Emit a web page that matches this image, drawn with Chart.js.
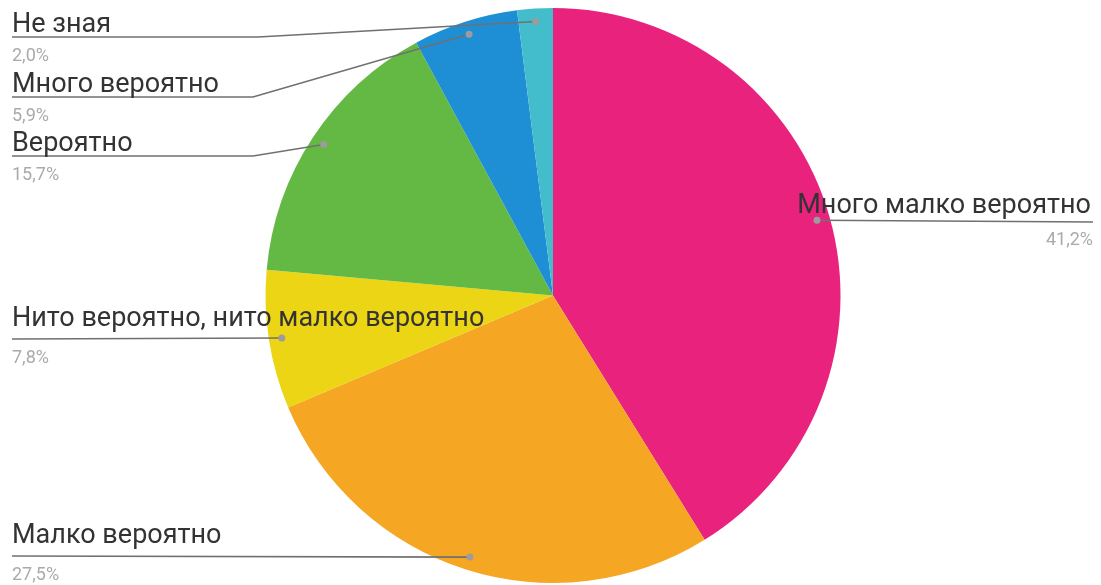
<!DOCTYPE html>
<html>
<head>
<meta charset="utf-8">
<script src="https://cdn.jsdelivr.net/npm/chart.js@4"></script>
<style>
    html, body { margin: 0; padding: 0; background: #ffffff; }
    #wrap { width: 1101px; height: 585px; position: relative; }
</style>
</head>
<body>
<div id="wrap"><canvas id="pieChart" width="1101" height="585"></canvas></div>
<script>
// Answers, in drawing order (clockwise from 12 o'clock)
const answers = [
    'Много малко вероятно',
    'Малко вероятно',
    'Нито вероятно, нито малко вероятно',
    'Вероятно',
    'Много вероятно',
    'Не зная'
];
const shares = [41.2, 27.5, 7.8, 15.7, 5.9, 2.0];
const sliceColors = ['#E8227D', '#F5A623', '#EBD514', '#64B945', '#1E8FD5', '#43BCCB'];

// Where each callout sits: side, underline y, bend x of the leader line
const callouts = [
    { side: 'right', lineY: 222, bendX: null },
    { side: 'left',  lineY: 556, bendX: null },
    { side: 'left',  lineY: 339, bendX: null },
    { side: 'left',  lineY: 156, bendX: 253 },
    { side: 'left',  lineY: 97,  bendX: 253 },
    { side: 'left',  lineY: 37,  bendX: 258 }
];

const NAME_FONT = '28px Roboto';
const PCT_FONT = '18px Roboto';
const NAME_STRETCH = 0.965;

function fmtPct(v) {
    return v.toFixed(1).replace('.', ',') + '%';
}

function drawName(ctx, text, x, y, align) {
    ctx.save();
    ctx.font = NAME_FONT;
    ctx.fillStyle = '#333333';
    ctx.textBaseline = 'alphabetic';
    ctx.textAlign = 'left';
    const w = ctx.measureText(text).width * NAME_STRETCH;
    const left = align === 'right' ? x - w : x;
    ctx.translate(left, y);
    ctx.scale(NAME_STRETCH, 1);
    ctx.fillText(text, 0, 0);
    ctx.restore();
}

const calloutPlugin = {
    id: 'callouts',
    afterDatasetsDraw(chart) {
        const ctx = chart.ctx;
        const meta = chart.getDatasetMeta(0);
        meta.data.forEach((arc, i) => {
            const c = callouts[i];
            const mid = (arc.startAngle + arc.endAngle) / 2;
            const r = arc.outerRadius - 13;
            const dx = arc.x + Math.cos(mid) * r;
            const dy = arc.y + Math.sin(mid) * r;

            // leader line: underline under the name, then a kink to the dot
            ctx.save();
            ctx.strokeStyle = '#707070';
            ctx.lineWidth = 1.6;
            ctx.beginPath();
            if (c.side === 'left') {
                ctx.moveTo(12, c.lineY);
                if (c.bendX !== null) ctx.lineTo(c.bendX, c.lineY);
                ctx.lineTo(dx, dy);
            } else {
                ctx.moveTo(dx, dy);
                ctx.lineTo(1093, c.lineY);
            }
            ctx.stroke();

            ctx.fillStyle = '#9c9c9c';
            ctx.beginPath();
            ctx.arc(dx, dy, 3.5, 0, Math.PI * 2);
            ctx.fill();
            ctx.restore();

            const name = answers[i];
            const pct = fmtPct(shares[i]);
            ctx.save();
            ctx.font = PCT_FONT;
            ctx.fillStyle = '#aaaaaa';
            if (c.side === 'left') {
                drawName(ctx, name, 12, c.lineY - 5 - (c.lineY > 300 ? 8 : 0), 'left');
                ctx.textAlign = 'left';
                ctx.fillText(pct, 12, c.lineY + 24);
            } else {
                drawName(ctx, name, 1091, c.lineY - 9, 'right');
                ctx.textAlign = 'right';
                ctx.fillText(pct, 1093, c.lineY + 23);
            }
            ctx.restore();
        });
    }
};

new Chart(document.getElementById('pieChart'), {
    type: 'pie',
    data: {
        labels: answers,
        datasets: [{
            data: shares,
            backgroundColor: sliceColors,
            borderWidth: 0
        }]
    },
    options: {
        responsive: false,
        animation: false,
        layout: { padding: { top: 8, bottom: 2, left: 200, right: 195 } },
        plugins: {
            legend: { display: false },
            tooltip: { enabled: false }
        }
    },
    plugins: [calloutPlugin]
});
</script>
</body>
</html>
